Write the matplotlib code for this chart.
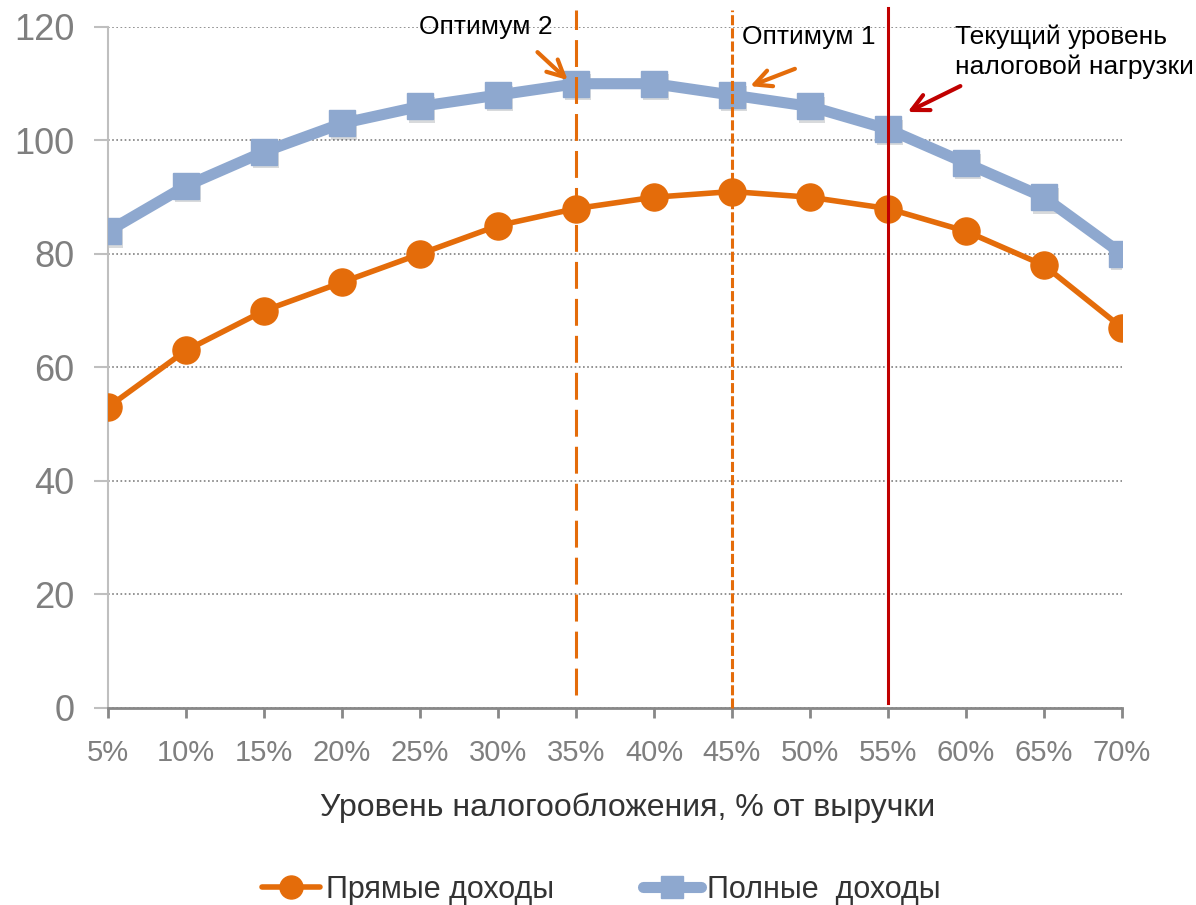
import matplotlib
matplotlib.use("Agg")
import matplotlib.pyplot as plt
import matplotlib.patheffects as pe

# Tax rate, % of revenue
rates = [5, 10, 15, 20, 25, 30, 35, 40, 45, 50, 55, 60, 65, 70]
rate_labels = [f"{r}%" for r in rates]

# Budget revenue curves
direct_income = [53, 63, 70, 75, 80, 85, 88, 90, 91, 90, 88, 84, 78, 67]
full_income = [84, 92, 98, 103, 106, 108, 110, 110, 108, 106, 102, 96, 90, 80]

optimum_full = 35
optimum_direct = 45
current_rate = 55

ORANGE = "#E46C0A"
BLUE = "#8EA8CF"
RED = "#C00000"

plt.rcParams["font.family"] = ["Liberation Sans", "DejaVu Sans"]

fig = plt.figure(figsize=(11.96, 9.05), dpi=100)
ax = fig.add_axes([0.0903, 0.2177, 0.8478, 0.7525])

# soft drop shadow under the square markers
ax.plot(rates, full_income, ls="none", marker="s", ms=18.5, mfc=BLUE,
        mec=BLUE, zorder=2,
        path_effects=[pe.SimplePatchShadow(offset=(1.5, -2.5), alpha=0.18)])
ax.plot(rates, full_income, color=BLUE, lw=8, marker="s", ms=18.5,
        mfc=BLUE, mec=BLUE, solid_capstyle="round", zorder=3,
        label="Полные  доходы")
ax.plot(rates, direct_income, color=ORANGE, lw=4, marker="o", ms=19.5,
        mfc=ORANGE, mec=ORANGE, solid_capstyle="round", zorder=4,
        label="Прямые доходы")

# optimum and current tax burden markers
ax.plot([optimum_full, optimum_full], [2.3, 123], color=ORANGE, lw=2.2,
        dashes=[8.8, 3.3], clip_on=False, zorder=5)
ax.plot([optimum_direct, optimum_direct], [0, 123], color=ORANGE, lw=2.2,
        dashes=[3.3, 1.0], clip_on=False, zorder=5)
ax.plot([current_rate, current_rate], [0.9, 123.3], color=RED, lw=2.2,
        clip_on=False, zorder=5)

arrow_kw = dict(arrowstyle="->,head_length=1.2,head_width=0.6", lw=3)
ax.annotate("", xy=(34.6, 110.3), xytext=(32.4, 115.9),
            arrowprops=dict(color=ORANGE, **arrow_kw), zorder=6)
ax.annotate("", xy=(46.0, 109.4), xytext=(49.2, 112.8),
            arrowprops=dict(color=ORANGE, **arrow_kw), zorder=6)
ax.annotate("", xy=(56.1, 104.8), xytext=(59.8, 109.8),
            arrowprops=dict(color=RED, **arrow_kw), zorder=6)

ax.text(29.2, 120.0, "Оптимум 2", fontsize=19, ha="center", va="center")
ax.text(49.9, 118.2, "Оптимум 1", fontsize=19, ha="center", va="center")
ax.text(59.3, 115.6, "Текущий уровень\nналоговой нагрузки", fontsize=19,
        ha="left", va="center", linespacing=1.3)

ax.set_xlim(5, 70)
ax.set_ylim(0, 120)
ax.set_xticks(rates)
ax.set_xticklabels(rate_labels)
ax.set_yticks(range(0, 121, 20))

ax.grid(axis="y", linestyle=(0, (1, 1.5)), color="#808080", lw=1.2)
ax.set_axisbelow(True)
for side in ("top", "right"):
    ax.spines[side].set_visible(False)
ax.spines["left"].set_color("#BFBFBF")
ax.spines["left"].set_linewidth(1.5)
ax.spines["bottom"].set_color("#888888")
ax.spines["bottom"].set_linewidth(2)
ax.tick_params(axis="y", colors="#BFBFBF", length=10, width=1.5,
               labelcolor="#7F7F7F", labelsize=26, pad=14)
ax.tick_params(axis="x", colors="#888888", length=7, width=2,
               labelcolor="#7F7F7F", labelsize=21, pad=15)

ax.set_xlabel("Уровень налогообложения, % от выручки", fontsize=23,
              color="#333333")
ax.xaxis.set_label_coords(0.512, -0.125)

handles, labels = ax.get_legend_handles_labels()
fig.legend(handles[::-1], labels[::-1], loc="lower center",
           bbox_to_anchor=(0.503, -0.03), ncol=2, frameon=False,
           fontsize=22, handlelength=1.9, handletextpad=0.2,
           columnspacing=2.9, labelcolor="#333333", markerscale=0.85)

fig.savefig("out.png", dpi=100)
